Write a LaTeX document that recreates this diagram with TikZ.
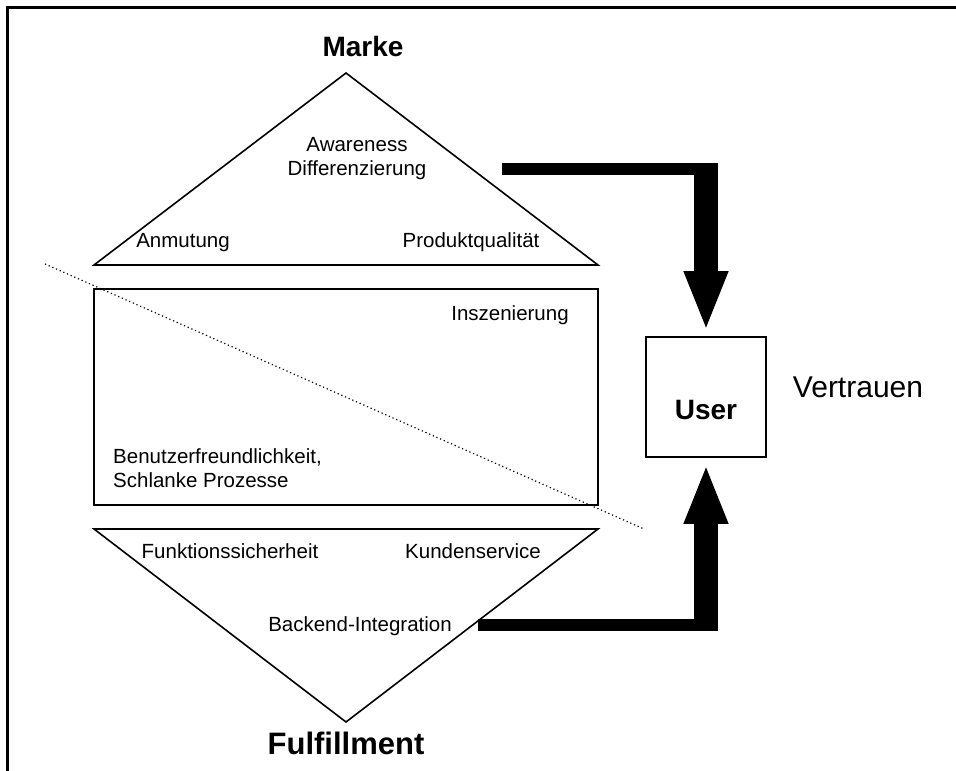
\documentclass[tikz,border=0pt]{standalone}
\usepackage{fontspec}
\setmainfont{Liberation Sans}
\usetikzlibrary{arrows.meta}
\tikzset{
  txt/.style={font=\fontsize{20.5bp}{24bp}\selectfont, inner sep=0pt, anchor=base},
  titel/.style={font=\fontsize{28bp}{32bp}\selectfont\bfseries, inner sep=0pt, anchor=base},
  kante/.style={line width=1.6bp},
  balken/.style={line width=12bp},
  schaft/.style={line width=24bp, -{Triangle[width=40bp,length=60bp]}}
}
\begin{document}
\begin{tikzpicture}[x=1bp, y=-1bp]
\useasboundingbox (0,0) rectangle (956,771);
% Rahmen
\draw[line width=3.5bp] (7.5,771) -- (7.5,7.5) -- (956,7.5);
% Formen
\draw[kante] (94,265) -- (346,73) -- (598,265) -- cycle;
\draw[kante] (94,289) rectangle (598,505);
\draw[kante] (94,529) -- (598,529) -- (346,722) -- cycle;
\draw[line width=1.2bp, dash pattern=on 1.2bp off 2.8bp] (45,264) -- (644,529);
% Beschriftung
\node[titel] (marke) at (363,57) {Marke};
\node[txt] (aware) at (357,151) {Awareness};
\node[txt] (diff) at (357,175) {Differenzierung};
\node[txt] (anmut) at (183,247) {Anmutung};
\node[txt] (quali) at (471,247) {Produktqualität};
\node[txt] (insz) at (510,320) {Inszenierung};
\node[txt, anchor=base west] (benutz) at (113,463) {Benutzerfreundlichkeit,};
\node[txt, anchor=base west] (prozess) at (113,487) {Schlanke Prozesse};
\node[txt] (funkt) at (230,558) {Funktionssicherheit};
\node[txt] (kunden) at (473,558) {Kundenservice};
\node[txt] (backend) at (360,631) {Backend-Integration};
\node[titel, font=\fontsize{31bp}{36bp}\selectfont\bfseries] (fulfil) at (346,754) {Fulfillment};
\node[draw, kante, minimum width=120bp, minimum height=120bp, inner sep=0pt] (user) at (706,397) {};
\node[titel] (usertxt) at (706,419) {User};
\node[txt, font=\fontsize{30bp}{36bp}\selectfont] (vertrauen) at (858,397) {Vertrauen};
% Pfeile
\coordinate (m0) at (502,169);
\coordinate (m1) at (718,169);
\coordinate (m2) at (706,163);
\draw[balken] (m0) -- (m1);
\draw[schaft, shorten >=5bp] (m2) -- (user.north);
\coordinate (f0) at (478,625);
\coordinate (f1) at (718,625);
\coordinate (f2) at (706,631);
\draw[balken] (f0) -- (f1);
\draw[schaft, shorten >=6bp] (f2) -- (user.south);
\end{tikzpicture}
\end{document}
